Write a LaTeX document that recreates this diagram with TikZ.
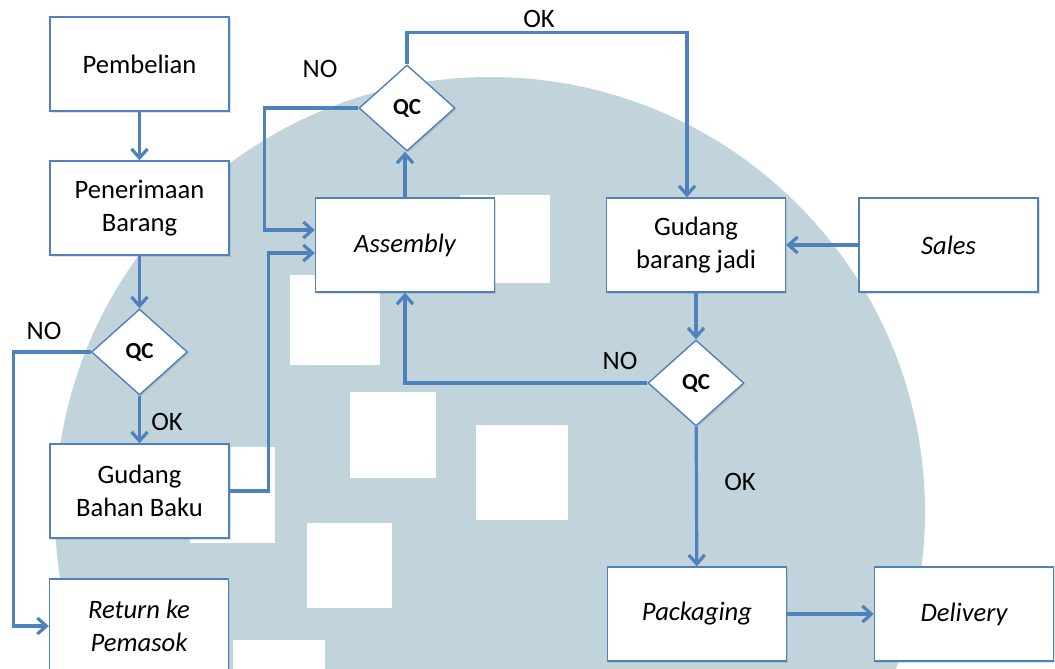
\documentclass[tikz,border=0pt]{standalone}
\usepackage{fontspec}
\setmainfont{Carlito}
\usetikzlibrary{shapes.geometric,arrows.meta,shadows}
\definecolor{flowblue}{RGB}{79,129,189}
\definecolor{markgray}{RGB}{193,211,219}
\tikzset{
	box/.style={draw=flowblue, line width=0.7pt, fill=white, minimum width=89.5pt, minimum height=47pt, align=center, font=\fontsize{13.3}{16.5}\selectfont, drop shadow={shadow xshift=0.8pt, shadow yshift=-0.8pt, opacity=0.25}},
	qc/.style={diamond, draw=flowblue, line width=0.7pt, fill=white, inner sep=0pt, aspect=1.1, minimum width=48pt, minimum height=43pt, font=\fontsize{11.5}{13}\selectfont\bfseries, drop shadow={shadow xshift=0.8pt, shadow yshift=-0.8pt, opacity=0.25}},
	flow/.style={draw=flowblue, line width=1.6pt, -{Straight Barb[length=4.5pt,width=8pt]}},
	lbl/.style={font=\fontsize{13.3}{16}\selectfont}
}
\begin{document}
\begin{tikzpicture}[x=0.5pt,y=-0.5pt]
		\useasboundingbox (0,0) rectangle (1055,669);
		\clip (0,0) rectangle (1055,669);
		% watermark
			\fill [markgray] (490,512) circle [radius=217.5pt];
			\fill [white] (290,275) rectangle (380,365);
			\fill [white] (460,195) rectangle (550,283);
			\fill [white] (190,447) rectangle (275,543);
			\fill [white] (350,392) rectangle (436,478);
			\fill [white] (476,425) rectangle (568,520);
			\fill [white] (307,523) rectangle (392,608);
			\fill [white] (233,640) rectangle (325,700);
		% left column
			\node [box] (pemb) at (139.5,64) {Pembelian};
			\node [box] (pener) at (139.5,208) {Penerimaan\\Barang};
			\node [qc] (qca) at (139.5,352) {QC};
			\node [box] (gbb) at (139.5,491) {Gudang\\Bahan Baku};
			\node [box] (ret) at (139,626) {\itshape Return ke\\\itshape Pemasok};
		% middle
			\node [box] (asm) at (405,245) {\itshape Assembly};
			\node [qc] (qcb) at (407,108) {QC};
		% right
			\node [box] (gbj) at (696,245) {Gudang\\barang jadi};
			\node [box] (sales) at (948.5,245) {\itshape Sales};
			\node [qc] (qcc) at (696,383) {QC};
			\node [box] (pack) at (697,614) {\itshape Packaging};
			\node [box] (deliv) at (964,614) {\itshape Delivery};
		% connectors
			\draw [flow] (pemb) -- (pener);
			\draw [flow] (pener) -- (qca);
			\draw [flow] (qca) -- (gbb);
			\draw [flow] (qca.west) -- ++(-77,0) |- (ret.west);
			\draw [flow] (gbb.east) -- ++(39,0) |- ([yshift=-4pt]asm.west);
			\draw [flow] (qcb.west) -- ++(-94,0) |- ([yshift=7.5pt]asm.west);
			\draw [flow] (asm.north) -- (asm.north |- qcb.south);
			\draw [flow] (qcb.north) -- ++(0,-32) -| ([xshift=-4.5pt]gbj.north);
			\draw [flow] (sales) -- (gbj);
			\draw [flow] (gbj) -- (qcc);
			\draw [flow] (qcc.west) -| (asm.south);
			\draw [flow] (qcc) -- (pack);
			\draw [flow] (pack) -- (deliv);
		% labels
			\node [lbl] (noa) at (44,331) {NO};
			\node [lbl] (oka) at (167,422) {OK};
			\node [lbl] (nob) at (320,69) {NO};
			\node [lbl] (okb) at (539,19) {OK};
			\node [lbl] (noc) at (620,361) {NO};
			\node [lbl] (okc) at (740,482) {OK};
	\end{tikzpicture}
\end{document}
